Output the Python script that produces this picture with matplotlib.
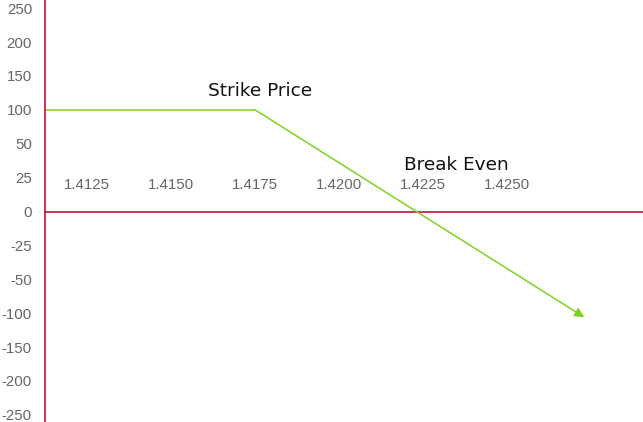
import numpy as np
import matplotlib
matplotlib.use("Agg")
import matplotlib.pyplot as plt

# Payoff data (price, profit)
price = [1.4100, 1.4175, 1.4273]
payoff = [100, 100, -106]

# Axis tick values
x_ticks = [1.4125, 1.4150, 1.4175, 1.4200, 1.4225, 1.4250]
y_ticks = [-250, -200, -150, -100, -50, -25, 0, 25, 50, 100, 150, 200, 250]

# Annotations (text, x, y)
notes = [("Strike Price", 1.41765, 128), ("Break Even", 1.42350, 34)]

line_col = "#7ED321"
axis_col = "#C0103A"

# Labels are evenly spaced although values are not: piecewise scale
scale_vals = np.array([-300] + y_ticks + [300], dtype=float)
scale_pos = np.arange(len(scale_vals), dtype=float)

def forward(v):
    return np.interp(v, scale_vals, scale_pos)

def inverse(p):
    return np.interp(p, scale_pos, scale_vals)

fig = plt.figure(figsize=(6.43, 4.22), dpi=100)
ax = fig.add_axes([44.5 / 643, 0, 1 - 44.5 / 643, 1])
ax.set_yscale("function", functions=(forward, inverse))

ax.plot(price[:-1], payoff[:-1], color=line_col, lw=1.1, solid_capstyle="butt")
ax.annotate("", xy=(price[-1], payoff[-1]), xytext=(price[-2], payoff[-2]),
            arrowprops=dict(arrowstyle="-|>", color=line_col, lw=1.1,
                            mutation_scale=14, shrinkA=0, shrinkB=0))

for txt, x, y in notes:
    ax.text(x, y, txt, ha="center", va="center", fontsize=13.3,
            family="DejaVu Sans", color="#111111")

ax.set_xlim(1.411235, 1.429048)
ax.set_ylim(-260.5, 262)

ax.set_yticks(y_ticks)
ax.set_yticklabels([str(v) for v in y_ticks])
ax.set_xticks(x_ticks)
ax.set_xticklabels(["%.4f" % v for v in x_ticks])

ax.xaxis.tick_top()
ax.spines["top"].set_position(("data", 0))
ax.spines["bottom"].set_visible(False)
ax.spines["right"].set_visible(False)
for s in ("top", "left"):
    ax.spines[s].set_color(axis_col)
    ax.spines[s].set_linewidth(1.2)

ax.tick_params(axis="x", length=0, pad=14, labelsize=10.8, labelcolor="#666666")
ax.tick_params(axis="y", length=0, pad=9, labelsize=10.8, labelcolor="#666666")
for lab in ax.get_xticklabels() + ax.get_yticklabels():
    lab.set_family("Liberation Sans")

fig.savefig("out.png", dpi=100)
